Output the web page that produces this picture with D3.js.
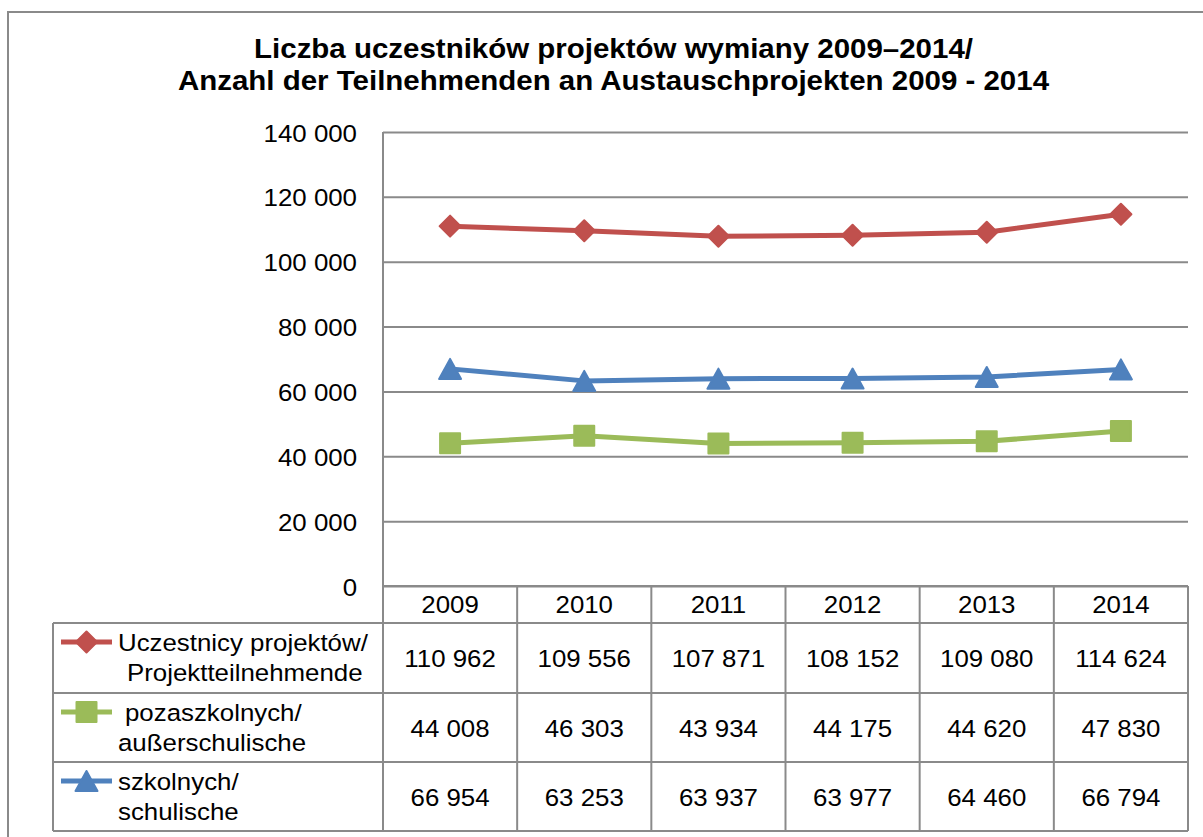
<!DOCTYPE html>
<html>
<head>
<meta charset="utf-8">
<script src="https://cdnjs.cloudflare.com/ajax/libs/d3/7.8.5/d3.min.js"></script>
<style>
  body { margin: 0; background: #fff; }
  svg { display: block; font-family: "Liberation Sans", Arial, sans-serif; }
</style>
</head>
<body>
<script>
// data
var years = ["2009", "2010", "2011", "2012", "2013", "2014"];
var uczestnicy = [110962, 109556, 107871, 108152, 109080, 114624];
var pozaszkolne = [44008, 46303, 43934, 44175, 44620, 47830];
var szkolne = [66954, 63253, 63937, 63977, 64460, 66794];
var seriesLabels = [
    ["Uczestnicy projektów/", "Projektteilnehmende"],
    ["pozaszkolnych/", "außerschulische"],
    ["szkolnych/", "schulische"]
];
var yTicks = [0, 20000, 40000, 60000, 80000, 100000, 120000, 140000];
var titleLines = ["Liczba uczestników projektów wymiany 2009–2014/",
                  "Anzahl der Teilnehmenden an Austauschprojekten 2009 - 2014"];

var series = [
    {values: uczestnicy, label: seriesLabels[0], color: "#C0504D", marker: "diamond", dx: [0, 9]},
    {values: pozaszkolne, label: seriesLabels[1], color: "#9BBB59", marker: "square", dx: [7, 0]},
    {values: szkolne, label: seriesLabels[2], color: "#4F81BD", marker: "triangle", dx: [0, 0]}
];

var W = 1203, H = 837;
var plot = {left: 383, right: 1188, top: 132, bottom: 586};
var rowTops = [623, 693, 762, 831];
var legendLeft = 53;
var stretch = 1.1;   // the original is a bit wider than tall
var gridColor = "#8a8a8a";

var fmt = d3.formatLocale({decimal: ",", thousands: " ", grouping: [3], currency: ["", ""]}).format(",d");

var svg = d3.select("body").append("svg")
    .attr("width", W)
    .attr("height", H);

svg.append("rect").attr("width", W).attr("height", H).attr("fill", "#fff");

// outer chart border (runs past the right / bottom edge)
svg.append("rect")
    .attr("x", 8).attr("y", 12)
    .attr("width", 1300).attr("height", 900)
    .attr("fill", "none").attr("stroke", gridColor).attr("stroke-width", 2);

function stext(parent, x, y, str, size, anchor, weight) {
    return parent.append("text")
        .attr("transform", "translate(" + x + "," + y + ") scale(" + stretch + ",1)")
        .attr("text-anchor", anchor || "start")
        .attr("font-size", size)
        .attr("font-weight", weight || "normal")
        .attr("fill", "#000")
        .text(str);
}

// title
stext(svg, 613.5, 58, titleLines[0], 26.8, "middle", "bold");
stext(svg, 613.5, 90, titleLines[1], 26.8, "middle", "bold");

var x = d3.scaleBand().domain(years).range([plot.left, plot.right]).padding(0);
var y = d3.scaleLinear().domain([0, 140000]).range([plot.bottom, plot.top]);

// gridlines + y labels
var yAxis = svg.append("g")
    .attr("transform", "translate(" + plot.left + ",0)")
    .call(d3.axisLeft(y).tickValues(yTicks).tickSize(-(plot.right - plot.left)).tickFormat(fmt));
yAxis.select(".domain").remove();
yAxis.selectAll(".tick line")
    .attr("stroke", gridColor).attr("stroke-width", 2);
yAxis.selectAll(".tick text").remove();
yAxis.selectAll(".tick").each(function(d) {
    stext(d3.select(this), -26, 9, fmt(d), 23.5, "end");
});

// y axis line
svg.append("line")
    .attr("x1", plot.left).attr("x2", plot.left)
    .attr("y1", plot.top).attr("y2", plot.bottom)
    .attr("stroke", gridColor).attr("stroke-width", 2);

// data table grid
var tbl = svg.append("g").attr("stroke", gridColor).attr("stroke-width", 2);
years.concat(["end"]).forEach(function(yr, i) {
    var xx = plot.left + i * x.bandwidth();
    tbl.append("line")
        .attr("x1", xx).attr("x2", xx)
        .attr("y1", plot.bottom).attr("y2", rowTops[rowTops.length - 1]);
});
rowTops.forEach(function(ry) {
    tbl.append("line")
        .attr("x1", legendLeft).attr("x2", plot.right)
        .attr("y1", ry).attr("y2", ry);
});
tbl.append("line")
    .attr("x1", legendLeft).attr("x2", legendLeft)
    .attr("y1", rowTops[0]).attr("y2", rowTops[rowTops.length - 1]);
tbl.append("line")
    .attr("x1", plot.left).attr("x2", plot.right)
    .attr("y1", plot.bottom).attr("y2", plot.bottom);

// header years
years.forEach(function(yr) {
    stext(svg, x(yr) + x.bandwidth() / 2, 613, yr, 23.5, "middle");
});

function markerPath(type) {
    if (type === "diamond") return "M0,-10.5L10.5,0L0,10.5L-10.5,0Z";
    if (type === "square") return "M-10,-10L10,-10L10,10L-10,10Z";
    return "M0,-10L11,10L-11,10Z";
}

function drawMarker(g, type, color, cx, cy) {
    g.append("path")
        .attr("d", markerPath(type))
        .attr("transform", "translate(" + cx + "," + cy + ")")
        .attr("fill", color)
        .attr("stroke", color)
        .attr("stroke-width", 2)
        .attr("stroke-linejoin", "round");
}

var line = d3.line()
    .x(function(d, i) { return x(years[i]) + x.bandwidth() / 2; })
    .y(function(d) { return y(d); });

// series lines + markers
series.forEach(function(s) {
    var g = svg.append("g");
    g.append("path")
        .attr("d", line(s.values))
        .attr("fill", "none")
        .attr("stroke", s.color)
        .attr("stroke-width", 5)
        .attr("stroke-linejoin", "round");
    s.values.forEach(function(v, i) {
        drawMarker(g, s.marker, s.color, x(years[i]) + x.bandwidth() / 2, y(v));
    });
});

// table rows: legend keys, labels and values
series.forEach(function(s, r) {
    var top = rowTops[r], bot = rowTops[r + 1], mid = (top + bot) / 2;
    var keyY = top + 19;
    var g = svg.append("g");
    g.append("line")
        .attr("x1", 61).attr("x2", 112)
        .attr("y1", keyY).attr("y2", keyY)
        .attr("stroke", s.color).attr("stroke-width", 5);
    drawMarker(g, s.marker, s.color, 86.5, keyY);
    stext(svg, 118 + s.dx[0], top + 28, s.label[0], 23.5, "start");
    stext(svg, 118 + s.dx[1], top + 58, s.label[1], 23.5, "start");
    s.values.forEach(function(v, i) {
        stext(svg, x(years[i]) + x.bandwidth() / 2, mid + 9, fmt(v), 23.5, "middle");
    });
});
</script>
</body>
</html>
